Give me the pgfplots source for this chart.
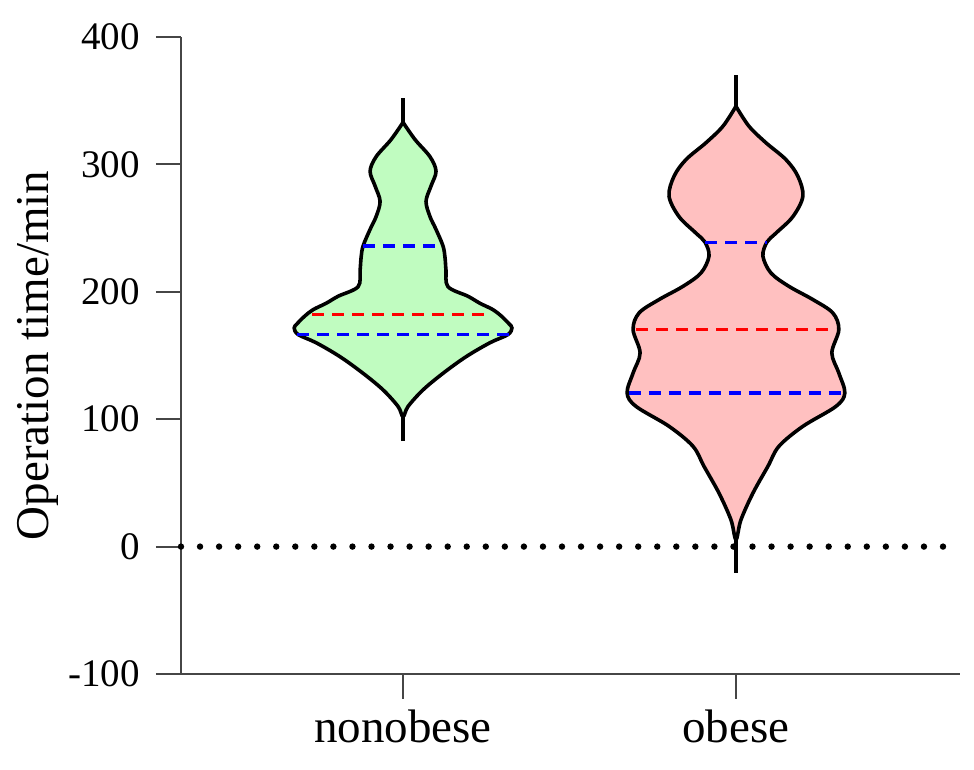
\documentclass[border=0pt]{standalone}
\usepackage{pgfplots}
\pgfplotsset{compat=1.18}
\usepackage{fontspec}
\setmainfont{Liberation Serif}
\definecolor{vgreen}{RGB}{192,252,192}
\definecolor{vpink}{RGB}{255,192,192}
\definecolor{axgray}{RGB}{70,70,70}
\begin{document}
\begin{tikzpicture}
\begin{axis}[
  name=ax,
  scale only axis,
  width=389.5pt, height=318.5pt,
  xmin=-0.667, xmax=1.673,
  ymin=-100, ymax=400,
  axis lines*=left,
  axis line style={axgray, line width=1pt},
  xtick={0,1}, xticklabels={nonobese,obese},
  ytick={-100,0,100,200,300,400},
  tick align=outside,
  major tick length=12.5pt,
  tick style={axgray, line width=1pt},
  /pgf/number format/assume math mode=true,
  yticklabel style={font=\fontsize{19.5}{21}\selectfont, xshift=-4.5pt},
  xticklabel style={font=\fontsize{23.5}{26}\selectfont, yshift=-2pt},
  every axis y label/.style={at={(rel axis cs:0,0.5)}, xshift=-71.5pt, rotate=90, anchor=center, font=\fontsize{23.5}{26}\selectfont},
  ylabel={Operation time/min},
  clip=false,
]
% zero reference line (dotted)
\addplot[black, line width=3.2pt, line cap=round, dash pattern=on 0pt off 9.525pt] coordinates {(-0.667,0) (1.622,0)};

% nonobese violin
\addplot[black, line width=1.8pt] coordinates {(0,82.7) (0,352)};
\addplot[draw=black, line width=1.8pt, fill=vgreen, smooth, tension=0.55] coordinates {
(0,333) (0.036,319.5) (0.081,306) (0.099,294.6) (0.084,283) (0.069,271) (0.081,259) (0.099,249) (0.120,236) (0.126,227) (0.129,217) (0.135,204) (0.195,196.5) (0.231,191) (0.270,186) (0.295,181) (0.318,175) (0.327,171.6) (0.315,166.4) (0.261,160) (0.189,149) (0.120,136) (0.060,123) (0.015,110) (0,102)
(-0.015,110) (-0.060,123) (-0.120,136) (-0.189,149) (-0.261,160) (-0.315,166.4) (-0.327,171.6) (-0.318,175) (-0.295,181) (-0.270,186) (-0.231,191) (-0.195,196.5) (-0.135,204) (-0.129,217) (-0.126,227) (-0.120,236) (-0.099,249) (-0.081,259) (-0.069,271) (-0.084,283) (-0.099,294.6) (-0.081,306) (-0.036,319.5) (0,333)
};
\addplot[red, line width=1.6pt, dash pattern=on 6pt off 4pt] coordinates {(-0.273,182) (0.261,182)};
\addplot[blue, line width=1.6pt, dash pattern=on 6pt off 4pt] coordinates {(-0.318,166.4) (0.318,166.4)};
\addplot[blue, line width=1.6pt, dash pattern=on 6pt off 4pt] coordinates {(-0.12,236) (0.12,236)};

% obese violin
\addplot[black, line width=1.8pt] coordinates {(1,-20.4) (1,370.5)};
\addplot[draw=black, line width=1.8pt, fill=vpink, smooth, tension=0.55] coordinates {
(1,345.6) (1.039,330) (1.090,317) (1.150,303.8) (1.186,290.7) (1.201,275) (1.171,259) (1.120,246) (1.093,239) (1.081,228) (1.105,214.8) (1.159,204.3) (1.231,193.9) (1.291,183.4) (1.309,170.3) (1.288,152) (1.309,136.3) (1.327,120.6) (1.300,110) (1.201,94.4) (1.129,78.7) (1.096,63) (1.051,42) (1.015,21) (1,5.5)
(0.985,21) (0.949,42) (0.904,63) (0.871,78.7) (0.799,94.4) (0.700,110) (0.673,120.6) (0.691,136.3) (0.712,152) (0.691,170.3) (0.709,183.4) (0.769,193.9) (0.841,204.3) (0.895,214.8) (0.919,228) (0.907,239) (0.880,246) (0.829,259) (0.799,275) (0.814,290.7) (0.850,303.8) (0.910,317) (0.961,330) (1,345.6)
};
\addplot[red, line width=1.6pt, dash pattern=on 6pt off 4pt] coordinates {(0.70,170.3) (1.30,170.3)};
\addplot[blue, line width=1.6pt, dash pattern=on 6pt off 4pt] coordinates {(0.678,120.6) (1.322,120.6)};
\addplot[blue, line width=1.6pt, dash pattern=on 6pt off 4pt] coordinates {(0.907,239) (1.093,239)};
\end{axis}
\path[use as bounding box] ([xshift=-90.5pt,yshift=-48pt]ax.south west) rectangle ([xshift=396.5pt,yshift=337pt]ax.south west);
\end{tikzpicture}
\end{document}
